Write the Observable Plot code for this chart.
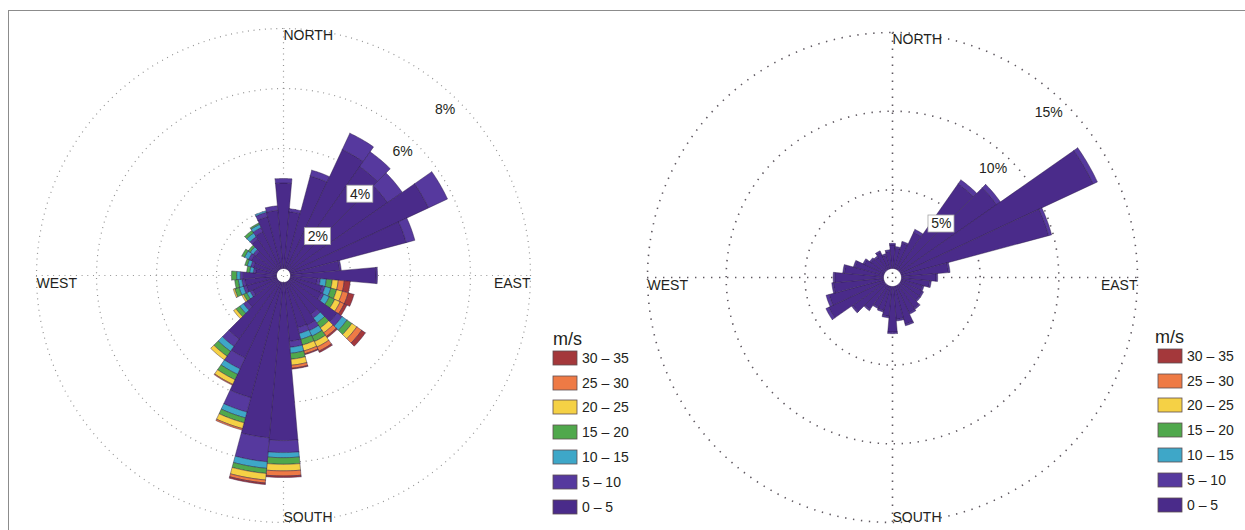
<!DOCTYPE html>
<html>
<head>
<meta charset="utf-8">
<script src="https://cdn.jsdelivr.net/npm/d3@7"></script>
<script src="https://cdn.jsdelivr.net/npm/@observablehq/plot@0.6"></script>
<style>
html, body { margin: 0; padding: 0; background: #fff; overflow: hidden; width: 1245px; height: 530px; }
#root { position: relative; width: 1245px; height: 530px; font-family: "Liberation Sans", Arial, sans-serif; color: #231f20; }
.pane { position: absolute; top: 0; }
.frame { position: absolute; left: 8px; top: 10px; width: 1400px; height: 700px; border: 1px solid #8c8c8c; pointer-events: none; }
.legtitle { position: absolute; font-size: 18px; line-height: 20px; color: #231f20; }
.legbox { position: absolute; }
.lg-swatches { font-family: "Liberation Sans", Arial, sans-serif; font-size: 14px; margin: 0; color: #231f20; }
.lg-swatch { height: 24.8px; padding-bottom: 0; }
.lg-swatch > svg { margin-right: 5px; }
.lg-swatch > svg rect { stroke: #5e4e52; stroke-width: 0.8px; }
</style>
</head>
<body>
<div id="root"></div>
<script>
// ---------- data ----------
const directions = [0,10,20,30,40,50,60,70,80,90,100,110,120,130,140,150,160,170,180,190,200,210,220,230,240,250,260,270,280,290,300,310,320,330,340,350];
const speedClasses = ["0 – 5","5 – 10","10 – 15","15 – 20","20 – 25","25 – 30","30 – 35"];
const speedColors = ["#4a2b8a","#56399e","#3ea7c8","#50a84c","#f5d145","#ee7a45","#a4383b"];
const compassNames = ["NORTH","EAST","SOUTH","WEST"];
const legendTitle = "m/s";

// Left rose (percent of time per 10° sector and speed class)
const leftTicks = [2,4,6,8];
const leftBoxedTicks = [2,4];
const left0to5   = [2.85,1.9,3.2,4.4,4.2,4.0,5.1,4.0,1.65,2.85,0.9,1.1,1.15,1.95,1.35,1.6,1.57,1.97,5.27,5.2,3.98,2.8,2.35,1.25,0.9,1.05,1.06,1.11,0.7,0.8,0.95,0.9,1.25,1.38,1.8,1.95];
const left5to10  = [0.15,0.1,0.2,0.6,0.6,0.6,0.7,0.3,0.05,0.05,0.1,0.1,0.1,0.2,0.15,0.2,0.2,0.2,0.4,0.8,0.5,0.4,0.3,0.15,0.1,0.1,0.1,0.1,0.08,0.1,0.1,0.1,0.1,0.15,0.15,0.15];
const left10to15 = [0,0,0,0,0,0,0,0,0,0,0.2,0.2,0.2,0.2,0.2,0.2,0.2,0.2,0.17,0.22,0.2,0.2,0.2,0.15,0.12,0.15,0.12,0.12,0.12,0.12,0.15,0.12,0.15,0.12,0.05,0];
const left15to20 = [0,0,0,0,0,0,0,0,0,0,0.2,0.2,0.2,0.2,0.2,0.2,0.2,0.2,0.22,0.17,0.17,0.2,0.2,0.15,0.12,0.15,0.12,0.17,0.1,0.08,0.1,0.08,0.1,0.05,0,0];
const left20to25 = [0,0,0,0,0,0,0,0,0,0,0.2,0.2,0.2,0.2,0.2,0.2,0.2,0.2,0.22,0.22,0.2,0.17,0.15,0.1,0.06,0.05,0,0,0,0,0,0,0,0,0,0];
const left25to30 = [0,0,0,0,0,0,0,0,0,0,0.2,0.2,0.15,0.2,0.15,0.15,0.1,0.1,0.17,0.1,0.05,0.03,0,0,0,0,0,0,0,0,0,0,0,0,0,0];
const left30to35 = [0,0,0,0,0,0,0,0,0,0,0.2,0.2,0.1,0.15,0.05,0.05,0.03,0.03,0.05,0.05,0,0,0,0,0,0,0,0,0,0,0,0,0,0,0,0];

// Right rose
const rightTicks = [5,10,15];
const rightBoxedTicks = [5];
const right0to5  = [1.5,1.3,1.7,2.6,6.7,7.5,13.5,9.7,3.0,2.2,1.8,1.4,1.5,1.5,1.8,1.9,2.5,2.1,2.9,1.9,1.6,1.5,1.9,2.5,3.9,3.6,3.2,3.1,2.5,1.9,1.4,1.1,1.0,1.2,0.9,1.1];
const right5to10 = [0.1,0.1,0.1,0.2,0.3,0.3,0.3,0.2,0.1,0.1,0.1,0.1,0.1,0.1,0.1,0.1,0.1,0.1,0.1,0.1,0.1,0.1,0.1,0.1,0.2,0.2,0.1,0.1,0.1,0.1,0.1,0.1,0.1,0.1,0.1,0.1];

// ---------- drawing ----------
const root = document.getElementById("root");
const rad = Math.PI / 180;

function rose(cfg) {
  const {series, ticks, boxed, hole, unit, xRange, yRange, width, grid} = cfg;
  const R = hole + ticks[ticks.length - 1];
  const polar = (r, a) => [r * Math.sin(a * rad), r * Math.cos(a * rad)];

  const pts = [];
  directions.forEach((dir, i) => {
    let r0 = hole;
    series.forEach((vals, k) => {
      const v = vals ? vals[i] : 0;
      if (!(v > 0)) return;
      const r1 = r0 + v;
      const id = i + "-" + k;
      const arc = d3.range(dir - 5, dir + 5.001, 1);
      const ring = [...arc.map(a => polar(r1, a)), ...arc.slice().reverse().map(a => polar(r0, a))];
      ring.push(ring[0]);
      for (const [x, y] of ring) pts.push({id, cls: speedClasses[k], x, y});
      r0 = r1;
    });
  });

  const ringPts = ticks.flatMap(t => d3.range(0, 361, 1).map(a => {
    const [x, y] = polar(hole + t, a);
    return {t, x, y};
  }));

  const lp = t => (hole + t) * Math.SQRT1_2;
  const bw = t => (String(t).length > 1 ? 32 : 26);
  const gridStyle = {stroke: grid.stroke, strokeWidth: grid.width, strokeDasharray: grid.dash, strokeLinecap: "butt"};

  return Plot.plot({
    width, height: 530,
    margin: 0,
    x: {domain: [-R, R], range: xRange, axis: null},
    y: {domain: [-R, R], range: yRange, axis: null},
    color: {domain: speedClasses, range: speedColors},
    style: {background: "transparent", fontFamily: "Liberation Sans, Arial, sans-serif", fontSize: "14px", color: "#231f20", overflow: "visible"},
    marks: [
      Plot.line(ringPts, {x: "x", y: "y", z: "t", ...gridStyle}),
      Plot.ruleX([0], {y1: -R, y2: R, ...gridStyle}),
      Plot.ruleY([0], {x1: -R, x2: R, ...gridStyle}),
      Plot.line(pts, {x: "x", y: "y", z: "id", fill: "cls", stroke: "#2b1a45", strokeWidth: 0.5, strokeOpacity: 0.85, strokeLinejoin: "miter", curve: "linear"}),
      Plot.rect(ticks.filter(t => boxed.includes(t)), {
        x1: t => lp(t) - bw(t) / unit, x2: lp,
        y1: t => lp(t) - 17 / unit, y2: lp,
        fill: "white", stroke: "#a5a5a5", strokeWidth: 0.8
      }),
      Plot.text(ticks, {x: lp, y: lp, text: t => t + "%", textAnchor: "end", lineAnchor: "middle", dx: -3, dy: 8.5}),
      Plot.text([compassNames[0]], {x: 0, y: R, text: d => d, textAnchor: "start", lineAnchor: "top", dy: 2}),
      Plot.text([compassNames[1]], {x: R, y: 0, text: d => d, textAnchor: "end", lineAnchor: "top", dy: 3}),
      Plot.text([compassNames[2]], {x: 0, y: -R, text: d => d, textAnchor: "start", lineAnchor: "bottom", dy: -1}),
      Plot.text([compassNames[3]], {x: -R, y: 0, text: d => d, textAnchor: "start", lineAnchor: "top", dy: 3})
    ]
  });
}

function addPane(node, left) {
  const d = document.createElement("div");
  d.className = "pane";
  d.style.left = left + "px";
  d.append(node);
  root.append(d);
}

function addLegend(titleLeft, titleTop, boxLeft, boxTop) {
  const t = document.createElement("div");
  t.className = "legtitle";
  t.style.left = titleLeft + "px";
  t.style.top = titleTop + "px";
  t.textContent = legendTitle;
  root.append(t);
  const box = document.createElement("div");
  box.className = "legbox";
  box.style.left = boxLeft + "px";
  box.style.top = boxTop + "px";
  box.append(Plot.legend({
    legend: "swatches",
    columns: 1,
    className: "lg",
    swatchWidth: 24,
    swatchHeight: 14,
    color: {type: "ordinal", domain: speedClasses.slice().reverse(), range: speedColors.slice().reverse()}
  }));
  root.append(box);
}

const leftUnit = 30;
addPane(rose({
  series: [left0to5, left5to10, left10to15, left15to20, left20to25, left25to30, left30to35],
  ticks: leftTicks, boxed: leftBoxedTicks,
  hole: 7 / leftUnit, unit: leftUnit,
  xRange: [36, 530], yRange: [522, 28], width: 620,
  grid: {stroke: "#939393", width: 1.2, dash: "1 4.7"}
}), 0);

const rightUnit = 236 / 15;
addPane(rose({
  series: [right0to5, right5to10],
  ticks: rightTicks, boxed: rightBoxedTicks,
  hole: 9 / rightUnit, unit: rightUnit,
  xRange: [27, 517], yRange: [522, 32], width: 625,
  grid: {stroke: "#5f5860", width: 1.6, dash: "1.4 6.6"}
}), 620);

addLegend(553, 329, 553, 345.5);
addLegend(1155, 327, 1158, 343.5);

const frame = document.createElement("div");
frame.className = "frame";
root.append(frame);
</script>
</body>
</html>
